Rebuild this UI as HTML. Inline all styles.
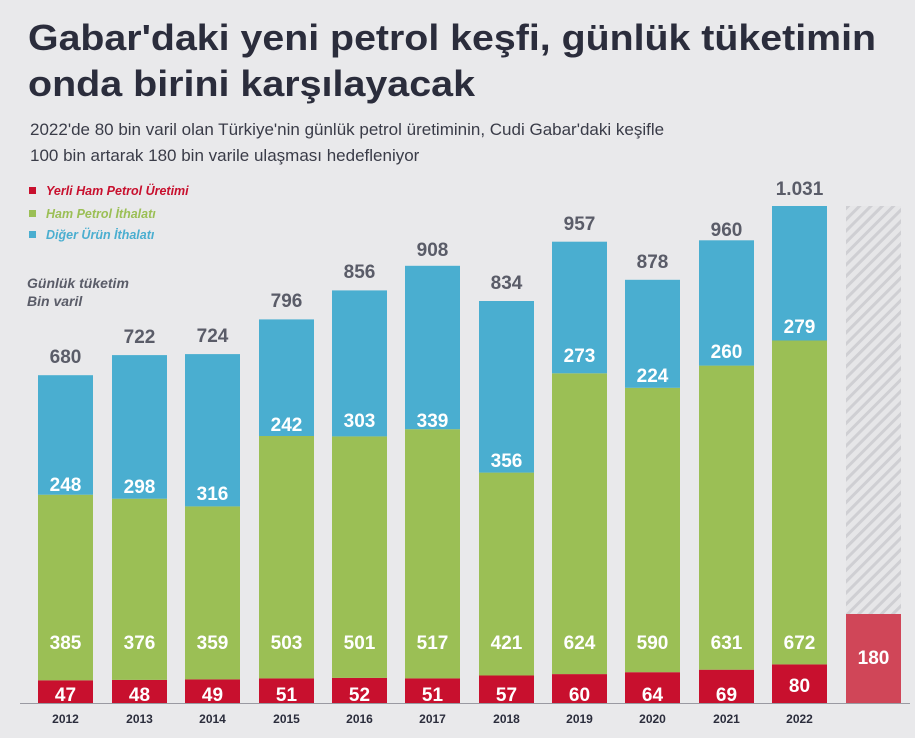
<!DOCTYPE html>
<html><head><meta charset="utf-8"><style>
body{margin:0;background:#e9e9eb;width:915px;height:733px;overflow:hidden;font-family:"Liberation Sans",sans-serif}
</style></head><body>
<svg width="915" height="733" xmlns="http://www.w3.org/2000/svg" font-family="Liberation Sans, sans-serif">
<defs><pattern id="h" width="8" height="8" patternUnits="userSpaceOnUse" patternTransform="rotate(45)"><rect width="8" height="8" fill="#e6e6e8"/><rect width="3" height="8" fill="#cfcfd3"/></pattern></defs>
<rect width="915" height="733" fill="#e9e9eb"/>
<text x="28" y="50" font-size="36" font-weight="bold" fill="#2b2d3c" textLength="848" lengthAdjust="spacingAndGlyphs">Gabar'daki yeni petrol keşfi, günlük tüketimin</text>
<text x="28" y="96" font-size="36" font-weight="bold" fill="#2b2d3c" textLength="447" lengthAdjust="spacingAndGlyphs">onda birini karşılayacak</text>
<text x="30" y="135" font-size="17" fill="#3a3c48">2022'de 80 bin varil olan Türkiye'nin günlük petrol üretiminin, Cudi Gabar'daki keşifle</text>
<text x="30" y="161" font-size="17" fill="#3a3c48">100 bin artarak 180 bin varile ulaşması hedefleniyor</text>
<rect x="29" y="187" width="7" height="7" fill="#c8102e"/><text x="46" y="195" font-size="12.5" font-weight="bold" font-style="italic" fill="#c8102e">Yerli Ham Petrol Üretimi</text>
<rect x="29" y="210" width="7" height="7" fill="#9bbf55"/><text x="46" y="218" font-size="12.5" font-weight="bold" font-style="italic" fill="#9bbf55">Ham Petrol İthalatı</text>
<rect x="29" y="231" width="7" height="7" fill="#4aaed0"/><text x="46" y="239" font-size="12.5" font-weight="bold" font-style="italic" fill="#4aaed0">Diğer Ürün İthalatı</text>
<text x="27" y="288" font-size="14" font-weight="bold" font-style="italic" fill="#5a5c68">Günlük tüketim</text>
<text x="27" y="306" font-size="14" font-weight="bold" font-style="italic" fill="#5a5c68">Bin varil</text>
<line x1="20" y1="703.5" x2="910" y2="703.5" stroke="#9a9aa2" stroke-width="1"/>
<rect x="846" y="206" width="55" height="408" fill="url(#h)"/>
<rect x="846" y="614" width="55" height="89" fill="#d04658"/>
<text x="873.5" y="664" font-size="19" font-weight="bold" fill="#fff" text-anchor="middle">180</text>
<g id="bars" font-weight="bold" text-anchor="middle">
</g>
<g font-weight="bold" text-anchor="middle" font-size="19">
<!-- x, r, g, b tops -->
<g>
<rect x="38" y="680.3" width="55" height="22.7" fill="#c8102e"/><rect x="38" y="494.7" width="55" height="185.6" fill="#9bbf55"/><rect x="38" y="375.2" width="55" height="119.5" fill="#4aaed0"/>
<text x="65.5" y="701" fill="#fff">47</text><text x="65.5" y="649" fill="#fff">385</text><text x="65.5" y="491" fill="#fff">248</text><text x="65.5" y="363" fill="#5a5c68">680</text>
</g>
<g>
<rect x="112" y="679.9" width="55" height="23.1" fill="#c8102e"/><rect x="112" y="498.7" width="55" height="181.2" fill="#9bbf55"/><rect x="112" y="355.1" width="55" height="143.6" fill="#4aaed0"/>
<text x="139.5" y="701" fill="#fff">48</text><text x="139.5" y="649" fill="#fff">376</text><text x="139.5" y="493" fill="#fff">298</text><text x="139.5" y="343" fill="#5a5c68">722</text>
</g>
<g>
<rect x="185" y="679.4" width="55" height="23.6" fill="#c8102e"/><rect x="185" y="506.4" width="55" height="173" fill="#9bbf55"/><rect x="185" y="354.1" width="55" height="152.3" fill="#4aaed0"/>
<text x="212.5" y="701" fill="#fff">49</text><text x="212.5" y="649" fill="#fff">359</text><text x="212.5" y="500" fill="#fff">316</text><text x="212.5" y="342" fill="#5a5c68">724</text>
</g>
<g>
<rect x="259" y="678.4" width="55" height="24.6" fill="#c8102e"/><rect x="259" y="436" width="55" height="242.4" fill="#9bbf55"/><rect x="259" y="319.4" width="55" height="116.6" fill="#4aaed0"/>
<text x="286.5" y="701" fill="#fff">51</text><text x="286.5" y="649" fill="#fff">503</text><text x="286.5" y="431" fill="#fff">242</text><text x="286.5" y="307" fill="#5a5c68">796</text>
</g>
<g>
<rect x="332" y="677.9" width="55" height="25.1" fill="#c8102e"/><rect x="332" y="436.4" width="55" height="241.5" fill="#9bbf55"/><rect x="332" y="290.4" width="55" height="146" fill="#4aaed0"/>
<text x="359.5" y="701" fill="#fff">52</text><text x="359.5" y="649" fill="#fff">501</text><text x="359.5" y="427" fill="#fff">303</text><text x="359.5" y="278" fill="#5a5c68">856</text>
</g>
<g>
<rect x="405" y="678.4" width="55" height="24.6" fill="#c8102e"/><rect x="405" y="429.2" width="55" height="249.2" fill="#9bbf55"/><rect x="405" y="265.8" width="55" height="163.4" fill="#4aaed0"/>
<text x="432.5" y="701" fill="#fff">51</text><text x="432.5" y="649" fill="#fff">517</text><text x="432.5" y="427" fill="#fff">339</text><text x="432.5" y="256" fill="#5a5c68">908</text>
</g>
<g>
<rect x="479" y="675.5" width="55" height="27.5" fill="#c8102e"/><rect x="479" y="472.6" width="55" height="202.9" fill="#9bbf55"/><rect x="479" y="301" width="55" height="171.6" fill="#4aaed0"/>
<text x="506.5" y="701" fill="#fff">57</text><text x="506.5" y="649" fill="#fff">421</text><text x="506.5" y="467" fill="#fff">356</text><text x="506.5" y="289" fill="#5a5c68">834</text>
</g>
<g>
<rect x="552" y="674.1" width="55" height="28.9" fill="#c8102e"/><rect x="552" y="373.3" width="55" height="300.8" fill="#9bbf55"/><rect x="552" y="241.7" width="55" height="131.6" fill="#4aaed0"/>
<text x="579.5" y="701" fill="#fff">60</text><text x="579.5" y="649" fill="#fff">624</text><text x="579.5" y="362" fill="#fff">273</text><text x="579.5" y="230" fill="#5a5c68">957</text>
</g>
<g>
<rect x="625" y="672.2" width="55" height="30.8" fill="#c8102e"/><rect x="625" y="387.8" width="55" height="284.4" fill="#9bbf55"/><rect x="625" y="279.8" width="55" height="108" fill="#4aaed0"/>
<text x="652.5" y="701" fill="#fff">64</text><text x="652.5" y="649" fill="#fff">590</text><text x="652.5" y="382" fill="#fff">224</text><text x="652.5" y="268" fill="#5a5c68">878</text>
</g>
<g>
<rect x="699" y="669.7" width="55" height="33.3" fill="#c8102e"/><rect x="699" y="365.6" width="55" height="304.1" fill="#9bbf55"/><rect x="699" y="240.3" width="55" height="125.3" fill="#4aaed0"/>
<text x="726.5" y="701" fill="#fff">69</text><text x="726.5" y="649" fill="#fff">631</text><text x="726.5" y="358" fill="#fff">260</text><text x="726.5" y="236" fill="#5a5c68">960</text>
</g>
<g>
<rect x="772" y="664.4" width="55" height="38.6" fill="#c8102e"/><rect x="772" y="340.5" width="55" height="323.9" fill="#9bbf55"/><rect x="772" y="206" width="55" height="134.5" fill="#4aaed0"/>
<text x="799.5" y="692" fill="#fff">80</text><text x="799.5" y="649" fill="#fff">672</text><text x="799.5" y="333" fill="#fff">279</text><text x="799.5" y="195" fill="#5a5c68">1.031</text>
</g>
</g>
<g font-size="12" font-weight="bold" fill="#2b2d3c" text-anchor="middle">
<text x="65.5" y="723">2012</text><text x="139.5" y="723">2013</text><text x="212.5" y="723">2014</text><text x="286.5" y="723">2015</text><text x="359.5" y="723">2016</text><text x="432.5" y="723">2017</text><text x="506.5" y="723">2018</text><text x="579.5" y="723">2019</text><text x="652.5" y="723">2020</text><text x="726.5" y="723">2021</text><text x="799.5" y="723">2022</text>
</g>
</svg>
</body></html>
